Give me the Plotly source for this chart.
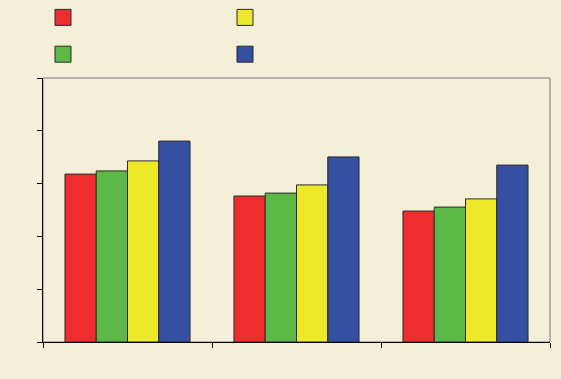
import plotly.graph_objects as go

categories = ["A", "B", "C"]
series_names = [" ", "  ", "   ", "    "]
red_vals = [63.6, 55.3, 49.6]
green_vals = [64.8, 56.4, 51.1]
yellow_vals = [68.6, 59.5, 54.2]
blue_vals = [76.1, 70.1, 67.0]

colors = ["#EE2E2E", "#5CB947", "#EEE82A", "#3550A2"]
ranks = [1, 3, 2, 4]
values = [red_vals, green_vals, yellow_vals, blue_vals]

fig = go.Figure()
for name, vals, col, rk in zip(series_names, values, colors, ranks):
    fig.add_trace(go.Bar(
        x=categories, y=vals, name=name, legendgroup=name, showlegend=False,
        marker=dict(color=col, line=dict(color="#2a2a2a", width=1)),
    ))
    # legend swatch (larger square than the default bar swatch)
    fig.add_trace(go.Scatter(
        x=[None], y=[None], mode="markers", name=name, legendgroup=name,
        legendrank=rk,
        marker=dict(symbol="square", size=18, color=col,
                    line=dict(color="#2a2a2a", width=1)),
    ))

bg = "#F4EFD9"
fig.update_layout(
    width=561, height=379,
    margin=dict(l=43, r=11, t=78, b=37, autoexpand=False),
    paper_bgcolor=bg, plot_bgcolor=bg,
    barmode="group", bargap=0.26, bargroupgap=0,
    legend=dict(orientation="h", x=0, xanchor="left", y=1.0, yanchor="bottom",
                entrywidth=137, font=dict(size=26), bgcolor="rgba(0,0,0,0)",
                traceorder="normal", itemsizing="trace"),
    xaxis=dict(showticklabels=False, ticks="outside", ticklen=5, tickson="boundaries",
               tickcolor="#000", showline=True, linecolor="#000", linewidth=1,
               showgrid=False),
    yaxis=dict(range=[0, 100], dtick=20, showticklabels=False, ticks="outside",
               ticklen=5, tickcolor="#000", showline=True, linecolor="#000",
               linewidth=1, showgrid=False, zeroline=False),
    shapes=[dict(type="rect", xref="paper", yref="paper", x0=0, x1=1, y0=0, y1=1,
                 line=dict(color="#777", width=1), layer="below")],
)
fig.write_html("out.html")
